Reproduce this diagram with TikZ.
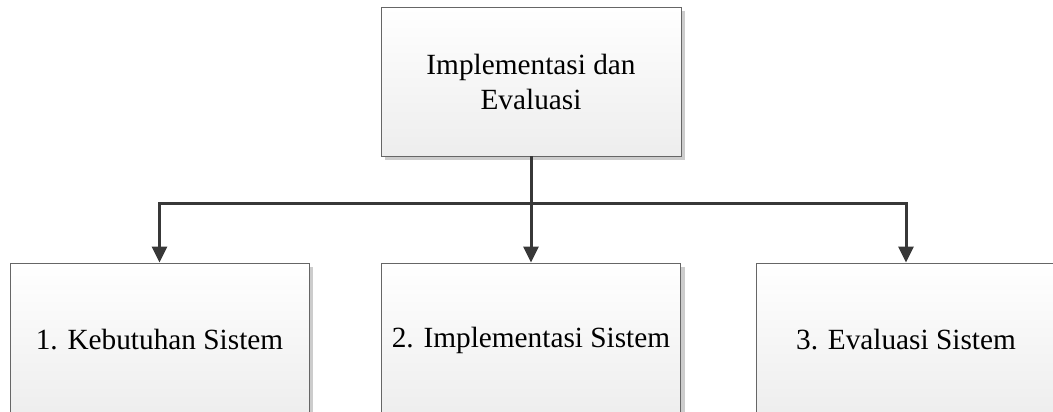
\documentclass[tikz,border=0pt]{standalone}
\usepackage{fontspec}
\setmainfont{Liberation Serif}
\usetikzlibrary{arrows.meta,shadows}
\begin{document}
\begin{tikzpicture}[x=1pt,y=1pt,
  box/.style={draw=black!60, line width=0.9pt, top color=white, bottom color=black!7,
    drop shadow={shadow xshift=4pt, shadow yshift=-4pt, fill=black!20, opacity=1},
    inner sep=0pt, align=center, font=\fontsize{29.3}{35}\selectfont},
  conn/.style={draw=black!78, line width=3pt},
  arr/.style={conn, -{Triangle[width=15pt,length=16pt]}}]
\useasboundingbox (0,0) rectangle (1053,-412);
\begin{scope}
\clip (0,0) rectangle (1053,-412);
\node[box, minimum width=300pt, minimum height=149pt] (top) at (531,-81.5) {Implementasi dan\\Evaluasi};
\node[box, minimum width=299pt, minimum height=154pt] (b1) at (159.5,-340) {1. Kebutuhan Sistem};
\node[box, minimum width=299pt, minimum height=154pt] (b2) at (531,-340) {2. Implementasi Sistem};
\node[box, minimum width=299pt, minimum height=154pt] (b3) at (906,-340) {3. Evaluasi Sistem};
\end{scope}
\coordinate (j) at (531,-203);
\draw[conn] (top.south) -- (j);
\draw[arr] (j) -| (b1.north);
\draw[arr] (j) -- (b2.north);
\draw[arr] (j) -| (b3.north);
\end{tikzpicture}
\end{document}
